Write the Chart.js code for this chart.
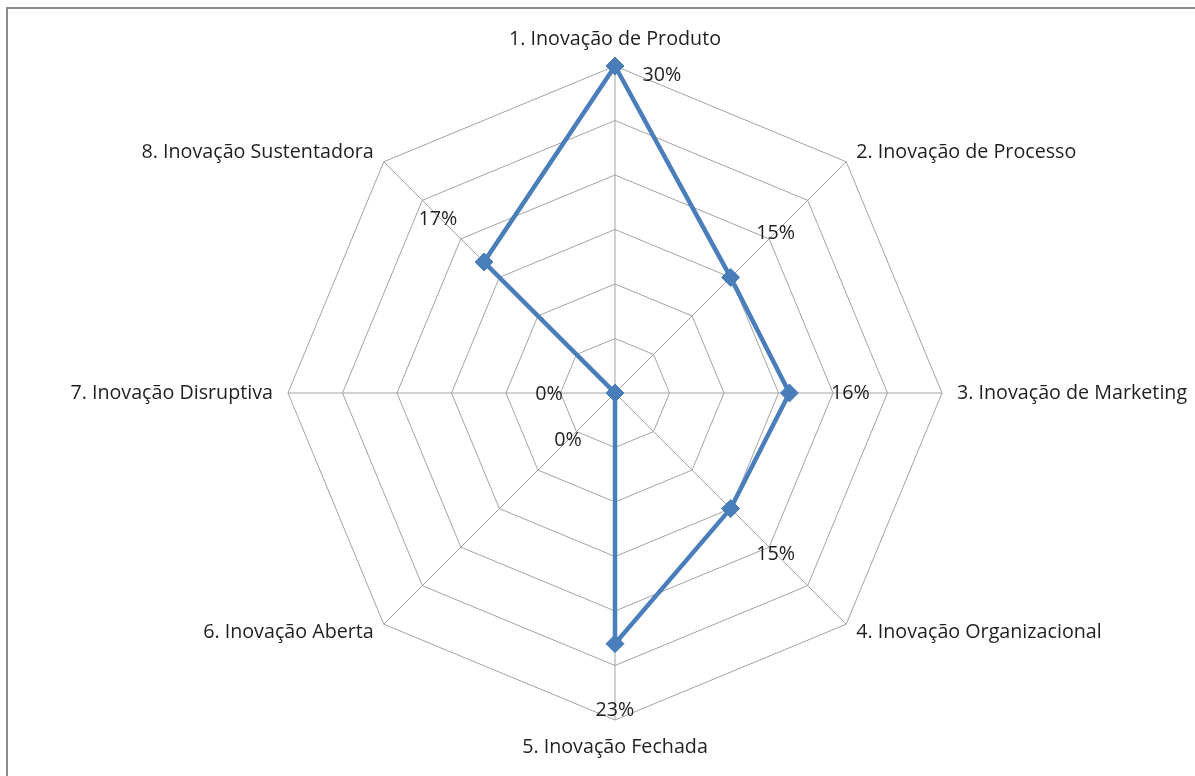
<!DOCTYPE html>
<html>
<head>
<meta charset="utf-8">
<title>Tipos de Inovação</title>
<script src="https://cdn.jsdelivr.net/npm/chart.js@4.4.1/dist/chart.umd.min.js"></script>
<style>
  html, body { margin: 0; padding: 0; background: #ffffff; }
  #wrap { position: relative; width: 1195px; height: 776px; overflow: hidden; }
  #frame {
    position: absolute; left: 6px; top: 7px; right: -10px; bottom: -10px;
    border-left: 2px solid #8c8c8c; border-top: 2px solid #8c8c8c;
  }
  canvas { position: absolute; left: 0; top: 0; }
</style>
</head>
<body>
<div id="wrap">
  <div id="frame"></div>
  <canvas id="chart" width="1195" height="776"></canvas>
</div>
<script>
// Innovation types and the share of each one (percent)
const categories = [
  '1. Inovação de Produto',
  '2. Inovação de Processo',
  '3. Inovação de Marketing',
  '4. Inovação Organizacional',
  '5. Inovação Fechada',
  '6. Inovação Aberta',
  '7. Inovação Disruptiva',
  '8. Inovação Sustentadora'
];
const shares = [30, 15, 16, 15, 23, 0, 0, 17];

// Radial scale range (rings every 5%)
const scaleMin = 0;
const scaleMax = 30;
const scaleStep = 5;

const BLUE = '#4A7EBB';
const GRID = '#a3a3a3';
const TEXT = '#1f1f1f';
const FONT = '19.7px "Open Sans", "Noto Sans", sans-serif';

// Placement of the category names around the outer ring: [dx, dy, align]
const namePlacement = [
  [0, -27, 'center'], [10, -9, 'left'], [15, 0, 'left'], [10, 8, 'left'],
  [0, 27, 'center'], [-10, 8, 'right'], [-15, 0, 'right'], [-10, -9, 'right']
];
// Placement of the value labels relative to each marker: [dx, dy]
const valuePlacement = [
  [47, 9], [45, -44], [61, 0], [45, 46], [0, 67], [-47, 47], [-66, 1], [-46, -43]
];

const radarText = {
  id: 'radarText',
  afterDatasetsDraw(chart) {
    const r = chart.scales.r;
    const ctx = chart.ctx;
    ctx.save();
    ctx.font = FONT;
    ctx.fillStyle = TEXT;
    ctx.textBaseline = 'middle';

    categories.forEach((name, i) => {
      const p = r.getPointPosition(i, r.drawingArea);
      const [dx, dy, align] = namePlacement[i];
      ctx.textAlign = align;
      ctx.fillText(name, p.x + dx, p.y + dy);
    });

    const meta = chart.getDatasetMeta(0);
    ctx.textAlign = 'center';
    meta.data.forEach((pt, i) => {
      const [dx, dy] = valuePlacement[i];
      ctx.fillText(shares[i] + '%', pt.x + dx, pt.y + dy);
    });
    ctx.restore();
  }
};

new Chart(document.getElementById('chart'), {
  type: 'radar',
  data: {
    labels: categories,
    datasets: [{
      data: shares,
      borderColor: BLUE,
      backgroundColor: 'rgba(0,0,0,0)',
      fill: false,
      borderWidth: 4.5,
      tension: 0,
      pointStyle: 'rectRot',
      pointRadius: 9,
      pointBackgroundColor: BLUE,
      pointBorderColor: BLUE,
      pointBorderWidth: 1,
      clip: false
    }]
  },
  options: {
    responsive: false,
    animation: false,
    layout: { padding: { left: 288, right: 253, top: 66, bottom: 56 } },
    plugins: {
      legend: { display: false },
      tooltip: { enabled: false }
    },
    scales: {
      r: {
        min: scaleMin,
        max: scaleMax,
        ticks: { display: false, stepSize: scaleStep },
        grid: { color: GRID, lineWidth: 1 },
        angleLines: { color: GRID, lineWidth: 1 },
        pointLabels: { display: false }
      }
    }
  },
  plugins: [radarText]
});
</script>
</body>
</html>
